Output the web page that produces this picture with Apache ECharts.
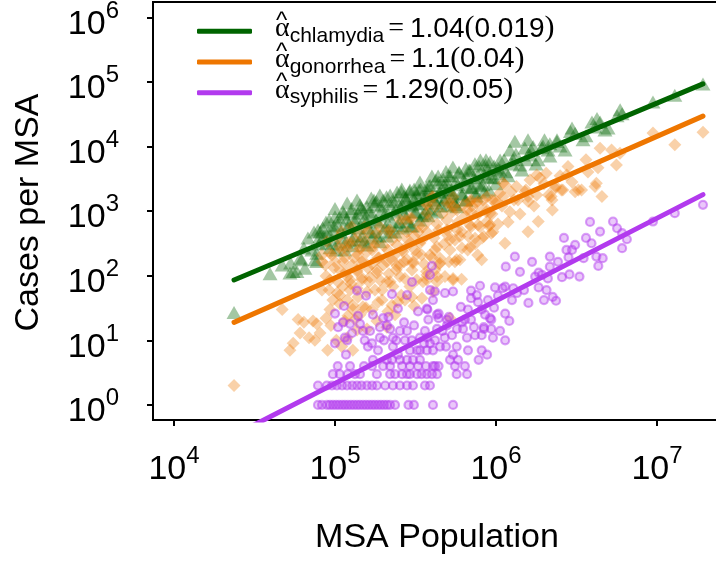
<!DOCTYPE html>
<html>
<head>
<meta charset="utf-8">
<script src="https://cdn.jsdelivr.net/npm/echarts@6/dist/echarts.min.js"></script>
<style>
html,body{margin:0;padding:0;background:#ffffff;}
#chart{width:716px;height:561px;}
</style>
</head>
<body>
<div id="chart"></div>
<script>
// ---------- data (MSA population, cases) ----------
const diseases = ['chlamydia', 'gonorrhea', 'syphilis'];
const alphaHat = ['1.04', '1.1', '1.29'];
const alphaSE = ['0.019', '0.04', '0.05'];
const xTickExponents = [4, 5, 6, 7];
const yTickExponents = [0, 1, 2, 3, 4, 5, 6];
const xTitle = 'MSA Population';
const yTitle = 'Cases per MSA';

// fitted lines: [population, cases] at both ends
const chlamydiaFit = [[23600, 86], [19300000, 93000]];
const gonorrheaFit = [[23600, 19], [19300000, 29500]];
const syphilisFit = [[23600, 0.34], [19300000, 1800]];

const chlamydiaPoints = [
  [23600, 27], [39500, 107], [47000, 147], [52500, 110], [53000, 158], [55000, 116], [58000, 116],
  [60700, 186], [62000, 176], [64100, 269], [65000, 130], [67900, 385], [71900, 251], [74100, 476],
  [75000, 176], [77000, 166], [77000, 223], [78500, 512], [79600, 311], [80700, 405], [81000, 480],
  [84000, 550], [85500, 413], [87900, 681], [88500, 318], [90600, 470], [92000, 731], [93000, 270],
  [94400, 358], [97600, 512], [98600, 590], [100000, 1100], [100000, 820], [101400, 251], [103000, 311],
  [104000, 611], [105900, 785], [109000, 476], [110000, 385], [112000, 980], [113800, 905], [115000, 251],
  [117000, 334], [118000, 730], [119000, 1340], [120000, 550], [122200, 634], [125600, 972], [127000, 1100],
  [128000, 358], [129000, 290], [131100, 413], [133000, 681], [135000, 785], [137000, 1490], [139000, 930],
  [141000, 550], [143000, 1250], [143000, 358], [144900, 1120], [147000, 413], [149000, 1040], [151400, 334],
  [153000, 785], [155800, 681], [158000, 1170], [158000, 300], [160000, 550], [162600, 972], [167500, 476],
  [168000, 1590], [170000, 905], [170000, 385], [174700, 1490], [175000, 1250], [177000, 476], [179800, 731],
  [181000, 1410], [185000, 681], [187700, 413], [190000, 1780], [190000, 335], [193100, 1200], [196000, 1040],
  [199000, 1490], [201500, 843], [205000, 550], [207500, 590], [209000, 1670], [210000, 413], [213000, 905],
  [216500, 1290], [220000, 1780], [222800, 476], [226000, 681], [230000, 1410], [232500, 972], [236000, 476],
  [239000, 1040], [239500, 1490], [243000, 1980], [246000, 594], [249900, 681], [257200, 1120], [258000, 2000],
  [260000, 2200], [261000, 1250], [264000, 550], [268600, 1720], [272000, 905], [276000, 1590], [276300, 785],
  [280000, 1490], [284000, 681], [288400, 1200], [290000, 2000], [292000, 2130], [296600, 590], [301000, 1250],
  [301000, 590], [309700, 1490], [310000, 2200], [314000, 970], [318600, 972], [319000, 1900], [322000, 1320],
  [328000, 1590], [332600, 2130], [337000, 731], [337000, 2830], [340000, 2200], [342000, 1290], [347000, 850],
  [357300, 905], [362000, 1490], [367600, 1720], [370000, 2300], [372000, 1900], [378000, 1110], [378000, 850],
  [383800, 2460], [390000, 2500], [394700, 1040], [400000, 3500], [400000, 1780], [412100, 1490], [424000, 1340],
  [424000, 3040], [430000, 970], [430000, 1670], [437000, 3500], [440000, 2800], [442600, 1980], [449000, 1980],
  [455400, 1200], [470000, 3100], [475000, 1490], [475500, 2460], [489000, 4100], [489100, 1600], [496000, 1210],
  [496000, 2130], [503000, 2730], [510500, 3510], [520000, 3500], [525000, 2130], [533000, 1900], [540000, 4800],
  [541000, 1670], [548300, 1390], [556000, 1250], [564500, 2830], [572000, 1170], [581000, 2550], [589000, 4040],
  [590000, 3900], [606200, 1850], [615000, 1780], [632600, 3040], [650000, 4600], [650000, 1490], [651700, 1490],
  [660000, 2380], [661000, 3270], [679200, 4340], [690000, 4300], [699800, 2290], [710000, 2290], [729700, 3270],
  [740000, 5400], [750000, 1900], [751600, 1720], [770000, 2700], [773000, 3630], [783900, 5010], [800000, 6200],
  [806900, 2460], [830000, 2550], [841800, 3770], [845000, 1980], [860000, 5200], [866900, 6210], [880000, 3400],
  [891000, 4340], [905000, 2130], [920000, 5800], [931000, 3270], [972000, 3270], [972700, 5010], [1000000, 2640],
  [1028000, 4650], [1044000, 3770], [1059000, 4340], [1060000, 6200], [1122000, 6210], [1153000, 4050],
  [1189000, 3510], [1220000, 8800], [1257000, 5380], [1276000, 6210], [1310000, 12000], [1330000, 7680],
  [1409000, 5190], [1449000, 4340], [1510000, 9500], [1535000, 6210], [1580000, 12700], [1626000, 7410],
  [1649000, 8850], [1700000, 10000], [1771000, 5380], [1824000, 6210], [1930000, 9600], [1958000, 10200],
  [2000000, 12700], [2105000, 8850], [2160000, 11000], [2163000, 7150], [2390000, 11900], [2393000, 12700],
  [2500000, 10200], [2685000, 8850], [2900000, 17000], [2966000, 19400], [3100000, 16000], [3470000, 12700],
  [3622000, 14600], [3945000, 24000], [4120000, 20000], [4240000, 27000], [4430000, 24000], [4750000, 18000],
  [4966000, 19400], [5650000, 30000], [5900000, 37000], [6070000, 32000], [9440000, 49000], [12900000, 62000],
  [19300000, 93000]
];

const gonorrheaPoints = [
  [23600, 2], [47000, 30], [52500, 7], [55000, 9], [59000, 21], [60700, 13], [64100, 19], [69000, 11],
  [73000, 20], [75000, 10], [77000, 18], [80700, 13], [83000, 210], [83000, 60], [83000, 164], [87000, 147],
  [87900, 99], [87900, 22], [89000, 335], [90000, 7], [91900, 60], [93000, 30], [93000, 86], [93000, 223],
  [94400, 17], [95800, 210], [97000, 42], [98600, 132], [100000, 164], [102000, 10], [103000, 54], [104000, 385],
  [104500, 80], [107000, 37], [107000, 123], [107000, 280], [107000, 50], [109000, 251], [110000, 8],
  [110000, 480], [112000, 68], [112200, 164], [115000, 189], [115000, 20], [117000, 115], [119000, 11],
  [119000, 97], [119000, 251], [119000, 42], [120300, 24], [121000, 300], [122200, 334], [124000, 86],
  [124000, 60], [125600, 75], [127000, 575], [128000, 147], [129000, 7], [129000, 30], [129000, 35],
  [131100, 189], [133000, 21], [133000, 358], [137000, 14.5], [137000, 64], [137000, 116], [137000, 123],
  [139000, 47], [139000, 460], [139000, 210], [141000, 251], [143000, 25], [143000, 267], [147000, 164],
  [147000, 86], [147200, 92], [149000, 33], [151400, 164], [153000, 575], [153000, 358], [155800, 32],
  [158000, 56], [158000, 15], [158100, 234], [160000, 480], [160000, 132], [162600, 80], [165000, 96],
  [169800, 152], [170000, 251], [170000, 30], [174700, 289], [177000, 322], [177000, 60], [182000, 110],
  [182000, 20], [182000, 455], [182400, 123], [184900, 39], [185000, 189], [187700, 189], [190000, 86],
  [190000, 575], [196000, 42], [196000, 60], [199000, 147], [201500, 289], [210000, 81], [210000, 16],
  [210400, 164], [213000, 251], [213000, 28], [215000, 480], [216500, 107], [220000, 81], [220000, 512],
  [225900, 358], [226000, 176], [226000, 35], [229000, 68], [232500, 203], [236000, 25], [240000, 123],
  [242700, 142], [243000, 300], [246000, 39], [249900, 413], [253000, 147], [253000, 731], [253000, 97],
  [258000, 50], [260800, 251], [264000, 234], [268600, 164], [272000, 91], [272000, 731], [272000, 42],
  [280000, 176], [280000, 476], [284000, 358], [288400, 311], [292000, 68], [292000, 776], [300000, 47],
  [300000, 776], [300800, 123], [305000, 156], [305000, 165], [309700, 413], [309700, 34], [314000, 251],
  [322000, 86], [322800, 217], [328000, 476], [332600, 590], [337000, 318], [345000, 210], [346800, 358],
  [346800, 45], [352000, 81], [352000, 575], [357300, 152], [370000, 1250], [370000, 1320], [370000, 116],
  [372000, 103], [372000, 86], [372000, 927], [372400, 476], [383800, 731], [389000, 210], [400000, 1670],
  [400300, 189], [406000, 57], [408000, 1670], [412100, 385], [418000, 123], [418000, 1170], [418000, 251],
  [430000, 97], [430000, 81], [430000, 280], [430500, 634], [440000, 512], [442600, 152], [449000, 187],
  [449000, 156], [462400, 905], [475500, 311], [482000, 97], [496000, 731], [496000, 1320], [496300, 512],
  [500000, 428], [510500, 164], [518000, 1320], [518000, 251], [518000, 358], [518000, 22], [533300, 972],
  [541000, 1170], [541000, 91], [541000, 86], [541000, 1670], [555900, 358], [556000, 165], [570000, 176],
  [572000, 512], [572000, 1040], [580800, 681], [597000, 403], [597000, 176], [611000, 480], [611000, 88],
  [615200, 269], [627000, 1250], [641200, 843], [660000, 1040], [667000, 251], [669900, 413], [690000, 1410],
  [690000, 611], [690000, 282], [700000, 980], [700000, 1490], [700000, 575], [709600, 1200], [741000, 380],
  [741300, 311], [755000, 1320], [770000, 1410], [770000, 210], [773000, 611], [773400, 905], [796000, 575],
  [815000, 176], [818500, 385], [830000, 1490], [840000, 403], [855100, 1120], [870000, 980], [880000, 1670],
  [880000, 690], [905000, 590], [918000, 611], [918000, 927], [935000, 455], [944600, 905], [950000, 1490],
  [957000, 480], [986000, 1490], [1000000, 1320], [1028000, 634], [1059000, 1900], [1089000, 1200],
  [1104000, 2730], [1104000, 1670], [1137000, 318], [1137000, 2550], [1189000, 681], [1220000, 980],
  [1240000, 2000], [1294000, 1490], [1340000, 2400], [1370000, 1490], [1409000, 905], [1510000, 2000],
  [1535000, 2130], [1580000, 1680], [1580000, 480], [1585000, 1410], [1626000, 3040], [1722000, 1200],
  [1790000, 3630], [1790000, 1780], [1830000, 690], [1875000, 3270], [1986000, 2640], [2050000, 3860],
  [2120000, 1780], [2200000, 1680], [2228000, 1490], [2240000, 1040], [2330000, 2250], [2350000, 2400],
  [2500000, 3510], [2550000, 2130], [2600000, 2130], [2750000, 3630], [2800000, 4890], [2966000, 2830],
  [3100000, 2000], [3250000, 2130], [3400000, 2130], [3622000, 6210], [3724000, 4040], [4120000, 2400],
  [4200000, 2700], [4300000, 4670], [4430000, 9420], [4550000, 1680], [5220000, 8850], [5600000, 5190],
  [5890000, 7870], [9440000, 16200], [12900000, 10600], [19300000, 16600]
];

const syphilisPoints = [
  // one case
  [78400, 1], [83000, 1], [89100, 1], [93100, 1], [97200, 1], [101500, 1], [105900, 1], [110700, 1],
  [115300, 1], [120300, 1], [125600, 1], [131100, 1], [137000, 1], [142900, 1], [149300, 1],
  [155800, 1], [162600, 1], [169800, 1], [177000, 1], [184900, 1], [192900, 1], [201500, 1],
  [210400, 1], [219800, 1], [236000, 1], [286000, 1], [309000, 1], [406000, 1], [541000, 1],
  // two cases
  [78400, 2], [89000, 2], [95800, 2], [102800, 2], [110700, 2], [118800, 2], [128000, 2], [137000, 2],
  [146000, 2], [158000, 2], [170000, 2], [182000, 2], [205000, 2], [229000, 2], [253000, 2],
  [280000, 2], [305000, 2], [362000, 2], [389000, 2],
  // three cases
  [97000, 3], [107000, 3], [120000, 3], [133000, 3], [143000, 3], [182000, 3], [220000, 3], [236000, 3],
  [261000, 3], [280000, 3], [292000, 3], [323000, 3], [345000, 3], [372000, 3], [400000, 3], [430000, 3],
  [570000, 3], [661000, 3],
  // four cases
  [104000, 4], [124000, 4], [151400, 4], [169800, 4], [199000, 4], [220000, 4], [261000, 4], [292000, 4],
  [328000, 4], [367600, 4], [406000, 4], [418000, 4], [440000, 4], [556000, 4], [641000, 4],
  // five to nine cases
  [172000, 5], [210000, 5], [226000, 5], [253000, 5], [280000, 5], [305000, 5], [337000, 5],
  [518000, 5], [580800, 5], [780000, 5], [117000, 6], [246000, 6], [541000, 6], [880000, 6],
  [670000, 7], [815000, 7], [406000, 7], [372000, 7], [337000, 7], [292000, 7], [324000, 7], [184900, 7],
  [160000, 8], [229000, 8], [449000, 8], [489100, 8], [570000, 8], [100000, 9], [389000, 9], [169800, 9],
  [357300, 9],
  // ten and more
  [119000, 10], [153000, 10], [201500, 10], [240000, 10], [272000, 10], [300000, 10], [418000, 10],
  [1140000, 10], [190000, 11], [229000, 11], [337000, 11], [372000, 11], [480000, 11], [660000, 11],
  [957000, 11], [115000, 11], [741000, 12], [815000, 12], [533300, 12], [127700, 13], [149000, 14],
  [165000, 14], [253000, 14], [280000, 14], [362000, 14], [465000, 14], [1060000, 14], [220000, 15],
  [430000, 15], [572000, 15], [624000, 15], [840000, 15], [935000, 15], [104500, 16], [729700, 16],
  [210000, 17], [309700, 17], [496000, 17], [190000, 16], [840000, 16], [143000, 18], [124000, 18],
  [112000, 19], [268600, 19], [615200, 19], [380000, 21], [496000, 21], [700000, 21], [641000, 21],
  [935000, 21], [1210000, 20], [199000, 22], [440000, 22], [918000, 22], [215000, 23], [510000, 23],
  [139000, 24], [172000, 25], [430000, 25], [855000, 25], [100000, 26], [440000, 26], [1140000, 26],
  [328000, 28], [372000, 31], [246000, 31], [375000, 30], [669900, 30], [815000, 30], [972700, 32],
  [605000, 33], [113800, 34], [773400, 39], [406000, 42], [891000, 42], [1257000, 42], [1986000, 42],
  [2360000, 41], [1590000, 38], [700000, 45], [2250000, 47], [155800, 49], [1028000, 49], [280000, 50],
  [760000, 50], [225900, 52], [137000, 59], [541000, 57], [482000, 54], [418000, 57], [700000, 59],
  [1350000, 54], [389000, 60], [1493000, 60], [2060000, 60], [1280000, 64], [1100000, 64], [1140000, 68],
  [986000, 66], [1840000, 66], [796000, 70], [300800, 80], [2100000, 91], [2570000, 95], [3300000, 97],
  [1750000, 97], [389000, 103], [1930000, 103], [2860000, 105], [1840000, 112], [1409000, 115],
  [2160000, 138], [1150000, 138], [400000, 142], [4320000, 142], [1675000, 164], [2427000, 164],
  [4600000, 187], [3500000, 187], [2820000, 193], [4200000, 198], [2160000, 198], [1310000, 198],
  [2740000, 251], [2966000, 251], [6070000, 267], [3100000, 300], [3920000, 318], [6500000, 367],
  [2643000, 385], [3622000, 385], [6070000, 455], [4430000, 482], [5650000, 543], [3837000, 681],
  [5330000, 690], [9440000, 690], [12900000, 930], [19300000, 1250]
];

// ---------- chart ----------
const SANS = "'Liberation Sans', Arial, Helvetica, sans-serif";
const SERIF = "'Liberation Serif', 'Times New Roman', serif";
const toLog = pts => pts.map(p => [Math.log10(p[0]), Math.log10(p[1])]);

const colors = {
  chlamydia: '#006400',
  gonorrhea: '#EE7600',
  syphilis: '#B23AEE'
};

const powerLabelRich = {
  b: { fontFamily: SANS, fontSize: 34, color: '#000', lineHeight: 30, padding: [13.8, 0, 0, 0] },
  s: { fontFamily: SANS, fontSize: 24, color: '#000', lineHeight: 30, padding: [0, 0, 12.6, 0] }
};
const powerFormatter = v => '{b|10}{s|' + Math.round(v) + '}';

const chart = echarts.init(document.getElementById('chart'), null, { renderer: 'canvas' });

const option = {
  animation: false,
  backgroundColor: '#ffffff',
  textStyle: { fontFamily: SANS },
  grid: {
    left: 153, top: 2, right: -14, bottom: 141,
    show: true, borderColor: '#000', borderWidth: 2,
    backgroundColor: 'transparent',
    containLabel: false,
    outerBoundsMode: 'none'
  },
  xAxis: {
    type: 'value',
    min: 3.8696,
    max: 7.4534,
    axisLine: { show: true, onZero: false, lineStyle: { color: '#000', width: 2 } },
    axisTick: { show: true, customValues: xTickExponents, length: 6, lineStyle: { color: '#000', width: 2 } },
    axisLabel: { customValues: xTickExponents, interval: 0, margin: 28, formatter: powerFormatter, rich: powerLabelRich },
    splitLine: { show: false }
  },
  yAxis: {
    type: 'value',
    min: -0.2326,
    max: 6.236,
    axisLine: { show: true, onZero: false, lineStyle: { color: '#000', width: 2 } },
    axisTick: { show: true, customValues: yTickExponents, length: 6, lineStyle: { color: '#000', width: 2 } },
    axisLabel: { customValues: yTickExponents, interval: 0, margin: 34, formatter: powerFormatter, rich: powerLabelRich },
    splitLine: { show: false }
  },
  legend: {
    data: diseases,
    orient: 'vertical',
    left: 197,
    top: 5.2,
    padding: 0,
    itemWidth: 55,
    itemHeight: 5,
    itemGap: -15,
    icon: 'roundRect',
    selectedMode: false,
    formatter: name => {
      const i = diseases.indexOf(name);
      return '{hat|^}\n{a|\u03B1}{sub|' + name + '}{eq|=}{num|' + alphaHat[i] + '}{par|(}{num|' + alphaSE[i] + '}{par|)}';
    },
    textStyle: {
      color: '#000',
      rich: {
        hat: { fontFamily: SANS, fontSize: 24, color: '#000', lineHeight: 2, padding: [4, 0, 0, 19] },
        a: { fontFamily: SERIF, fontSize: 28, color: '#000', lineHeight: 24, padding: [0, 0, 6.8, 18] },
        sub: { fontFamily: SANS, fontSize: 21, color: '#000', lineHeight: 24, padding: [7.8, 0, 0, 0] },
        eq: { fontFamily: SERIF, fontSize: 28, color: '#000', lineHeight: 24, padding: [0, 6, 6.8, 4] },
        num: { fontFamily: SANS, fontSize: 28, color: '#000', lineHeight: 24, padding: [0, 0, 6.8, 0] },
        par: { fontFamily: SERIF, fontSize: 30, color: '#000', lineHeight: 24, padding: [0, 0, 7.6, 0] }
      }
    }
  },
  graphic: [
    {
      type: 'text',
      x: 437, y: 537.2,
      style: { text: xTitle, font: '34px ' + SANS, fill: '#000', textAlign: 'center', textVerticalAlign: 'middle' }
    },
    {
      type: 'text',
      x: 28.2, y: 212.5,
      rotation: Math.PI / 2,
      style: { text: yTitle, font: '34px ' + SANS, fill: '#000', textAlign: 'center', textVerticalAlign: 'middle' }
    }
  ],
  series: [
    {
      name: 'chlamydia cases', type: 'scatter', data: toLog(chlamydiaPoints),
      symbol: 'triangle', symbolSize: [15, 13],
      itemStyle: { color: 'rgba(0,100,0,0.45)' }, silent: true
    },
    {
      name: 'chlamydia', type: 'line', data: toLog(chlamydiaFit),
      showSymbol: false, symbol: 'none', clip: true, silent: true,
      color: colors.chlamydia, itemStyle: { color: colors.chlamydia },
      lineStyle: { color: colors.chlamydia, width: 5, cap: 'round' }
    },
    {
      name: 'gonorrhea cases', type: 'scatter', data: toLog(gonorrheaPoints),
      symbol: 'diamond', symbolSize: 13,
      itemStyle: { color: 'rgba(238,118,0,0.42)' }, silent: true
    },
    {
      name: 'gonorrhea', type: 'line', data: toLog(gonorrheaFit),
      showSymbol: false, symbol: 'none', clip: true, silent: true,
      color: colors.gonorrhea, itemStyle: { color: colors.gonorrhea },
      lineStyle: { color: colors.gonorrhea, width: 5, cap: 'round' }
    },
    {
      name: 'syphilis cases', type: 'scatter', data: toLog(syphilisPoints),
      symbol: 'circle', symbolSize: 8,
      itemStyle: { color: 'rgba(178,58,238,0.35)', borderColor: 'rgba(178,58,238,0.6)', borderWidth: 2.2 },
      silent: true
    },
    {
      name: 'syphilis', type: 'line', data: toLog(syphilisFit),
      showSymbol: false, symbol: 'none', clip: true, silent: true,
      color: colors.syphilis, itemStyle: { color: colors.syphilis },
      lineStyle: { color: colors.syphilis, width: 5, cap: 'round' }
    }
  ]
};

chart.setOption(option);
</script>
</body>
</html>
